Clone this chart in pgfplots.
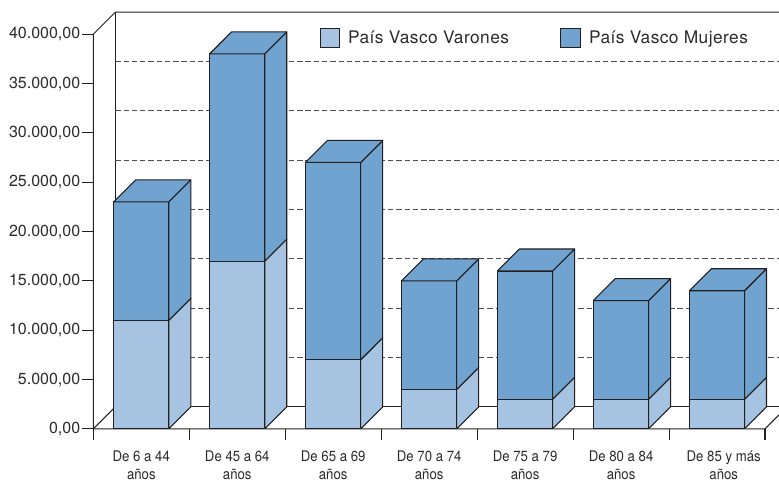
\documentclass[border=0pt]{standalone}
\usepackage{pgfplots}
\usepackage{fontspec}
\setmainfont{TeX Gyre Heros}
\newfontfamily\cond[FakeStretch=0.9]{TeX Gyre Heros}
\newfontfamily\ancha[LetterSpace=2.5]{TeX Gyre Heros}
\pgfplotsset{compat=1.18}
\definecolor{claro}{HTML}{A6C3E2}
\definecolor{medio}{HTML}{70A3D0}
\definecolor{linea}{HTML}{231F20}
\definecolor{texto}{HTML}{2B2B2B}
% bar segment: category index, lower value, upper value, colour
\newcommand{\seg}[4]{%
  \pgfmathsetmacro\xa{#1+0.2115}%
  \pgfmathsetmacro\xb{#1+0.7865}%
  \pgfmathsetmacro\xc{#1+0.7865+0.2292}%
  \edef\yl{\the\numexpr#2+2230\relax}%
  \edef\yh{\the\numexpr#3+2230\relax}%
  \addplot[barra,fill=#4] coordinates {(\xb,#2) (\xc,\yl) (\xc,\yh) (\xb,#3) (\xb,#2)};
  \addplot[barra,fill=#4] coordinates {(\xa,#2) (\xb,#2) (\xb,#3) (\xa,#3) (\xa,#2)};
}
\newcommand{\tapa}[3]{%
  \pgfmathsetmacro\xa{#1+0.2115}%
  \pgfmathsetmacro\xb{#1+0.7865}%
  \pgfmathsetmacro\xc{#1+0.7865+0.2292}%
  \pgfmathsetmacro\xd{#1+0.2115+0.2292}%
  \edef\yh{\the\numexpr#2+2230\relax}%
  \addplot[barra,fill=#3] coordinates {(\xa,#2) (\xb,#2) (\xc,\yh) (\xd,\yh) (\xa,#2)};
}
\begin{document}
\begin{tikzpicture}
\useasboundingbox (0,0) rectangle (584.25pt,360.75pt);
\begin{axis}[
  at={(70pt,39.1pt)}, anchor=south west,
  scale only axis, width=514.25pt, height=312.5pt,
  xmin=0, xmax=7.1458, ymin=0, ymax=42229,
  clip=false,
  axis line style={draw=none},
  tick style={draw=linea,line width=0.8pt},
  tick align=outside, tick pos=left,
  major tick length=8.5pt,
  xtick={0,1,2,3,4,5,6,7}, xticklabels={},
  extra x ticks={0.5,1.5,2.5,3.5,4.5,5.5,6.57},
  extra x tick labels={{De 6 a 44\\años},{De 45 a 64\\años},{De 65 a 69\\años},{De 70 a 74\\años},{De 75 a 79\\años},{De 80 a 84\\años},{De 85 y más\\años}},
  extra x tick style={major tick length=0pt,
    xticklabel style={align=center,font=\cond\fontsize{11}{13.2}\selectfont,text=texto,yshift=-13.2pt,anchor=north}},
  ytick={0,5000,10000,15000,20000,25000,30000,35000,40000},
  scaled y ticks=false,
  yticklabel style={font=\fontsize{12}{14}\selectfont,text=texto,xshift=2.2pt,
    /pgf/number format/.cd,fixed,fixed zerofill,precision=2,use comma,1000 sep={.},assume math mode=true},
  barra/.style={draw=linea,line width=0.8pt,line join=round,forget plot},
  marco/.style={draw=linea,line width=0.75pt,forget plot},
  rejilla/.style={draw=linea!80,line width=0.6pt,dash pattern=on 4pt off 2.2pt,forget plot},
  legend columns=2,
  legend cell align=left,
  legend style={at={(rel axis cs:0.3295,1)},anchor=north west,yshift=-11.5pt,draw=none,fill=none,
    font=\ancha\fontsize{13}{14}\selectfont,text=texto,inner sep=0pt,
    /tikz/every odd column/.append style={column sep=4.5pt},
    /tikz/every even column/.append style={column sep=36.5pt}},
]
% back walls
\addplot[marco] coordinates {(0,0) (0,40000) (0.2292,42229) (7.1458,42229)};
\addplot[marco] coordinates {(0.2292,42229) (0.2292,2230) (7.1458,2230)};
\addplot[marco] coordinates {(0,0) (0.2292,2230)};
% grid on the back wall
\addplot[rejilla] coordinates {(0.2292,7230) (7.1458,7230)};
\addplot[rejilla] coordinates {(0.2292,12230) (7.1458,12230)};
\addplot[rejilla] coordinates {(0.2292,17230) (7.1458,17230)};
\addplot[rejilla] coordinates {(0.2292,22230) (7.1458,22230)};
\addplot[rejilla] coordinates {(0.2292,27230) (7.1458,27230)};
\addplot[rejilla] coordinates {(0.2292,32230) (7.1458,32230)};
\addplot[rejilla] coordinates {(0.2292,37230) (7.1458,37230)};
% front floor edge
\addplot[marco] coordinates {(0,0) (7,0) (7.1458,1418)};
% bars: Varones, then Varones + Mujeres
\seg{0}{0}{11000}{claro}\seg{0}{11000}{23000}{medio}\tapa{0}{23000}{medio}
\seg{1}{0}{17000}{claro}\seg{1}{17000}{38000}{medio}\tapa{1}{38000}{medio}
\seg{2}{0}{7000}{claro}\seg{2}{7000}{27000}{medio}\tapa{2}{27000}{medio}
\seg{3}{0}{4000}{claro}\seg{3}{4000}{15000}{medio}\tapa{3}{15000}{medio}
\seg{4}{0}{3000}{claro}\seg{4}{3000}{16000}{medio}\tapa{4}{16000}{medio}
\seg{5}{0}{3000}{claro}\seg{5}{3000}{13000}{medio}\tapa{5}{13000}{medio}
\seg{6}{0}{3000}{claro}\seg{6}{3000}{14000}{medio}\tapa{6}{14000}{medio}
% legend
\addlegendimage{legend image code/.code={\draw[fill=claro,draw=linea,line width=0.5pt] (0pt,-7.3pt) rectangle (14.5pt,7.3pt);}}
\addlegendentry{País Vasco Varones}
\addlegendimage{legend image code/.code={\draw[fill=medio,draw=linea,line width=0.5pt] (0pt,-7.3pt) rectangle (14.5pt,7.3pt);}}
\addlegendentry{País Vasco Mujeres}
\end{axis}
\end{tikzpicture}
\end{document}
